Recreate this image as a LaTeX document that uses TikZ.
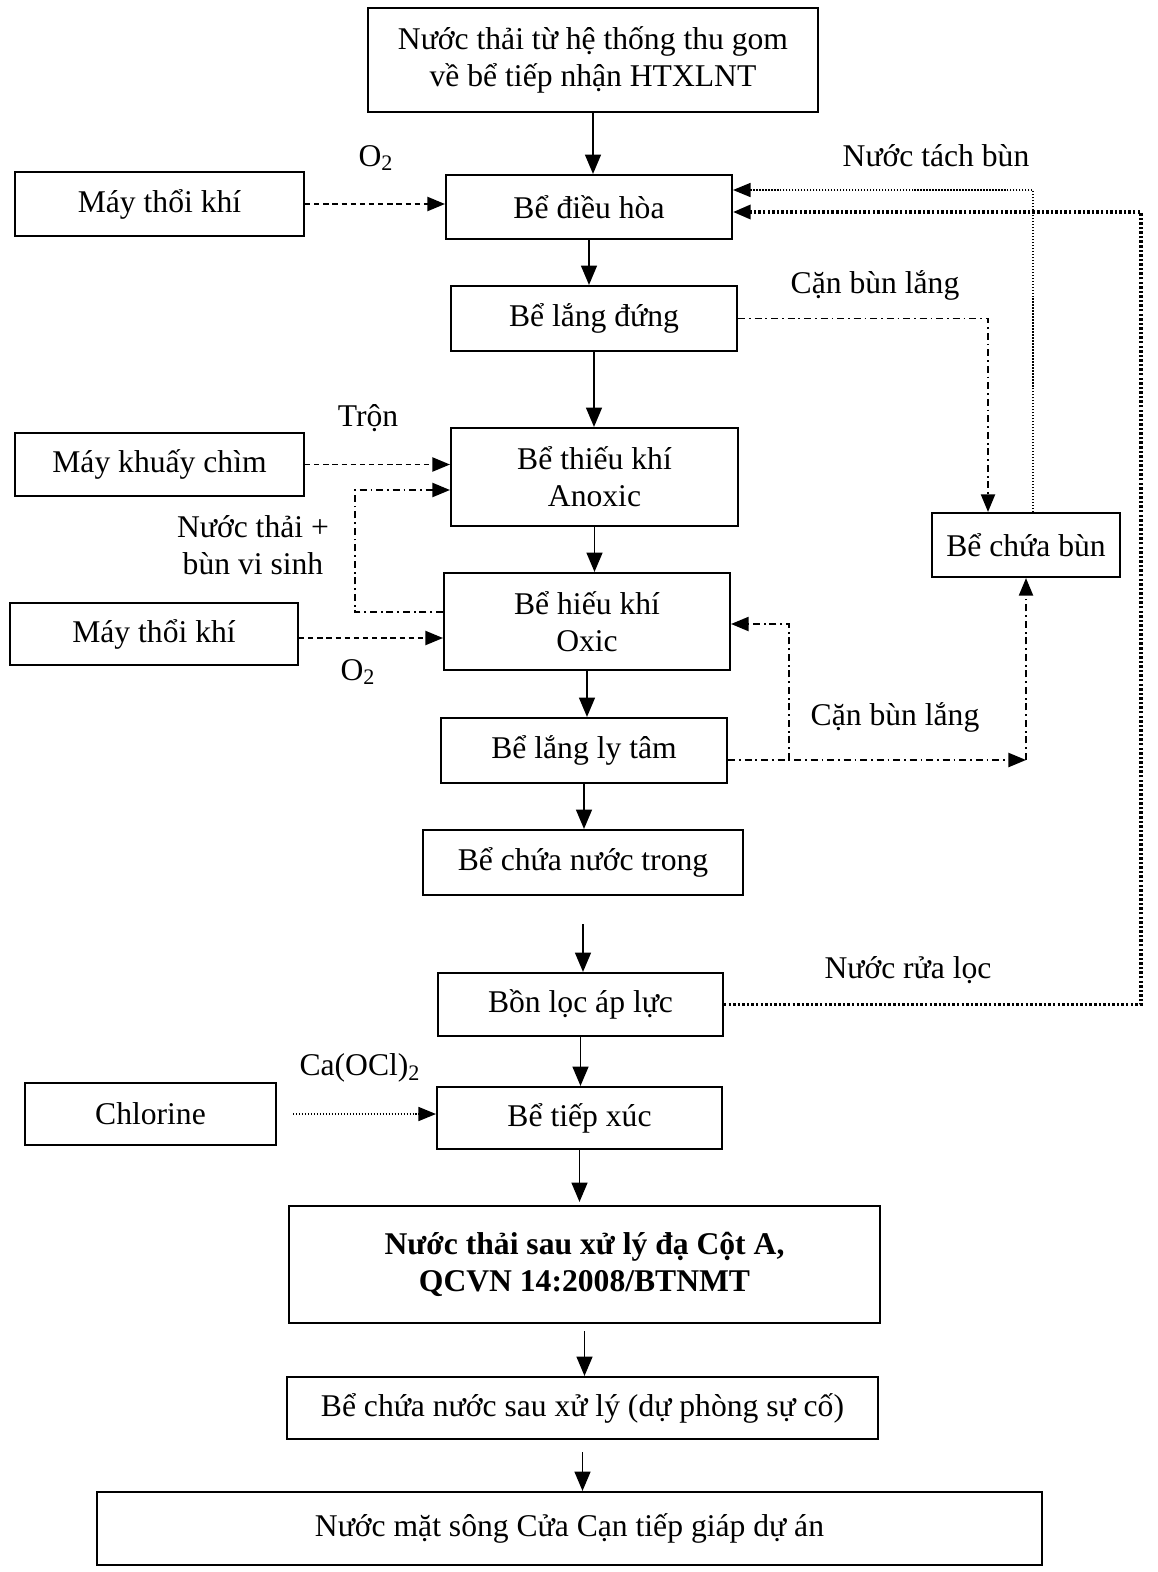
\documentclass[tikz,border=0pt]{standalone}
\usepackage{fontspec}
\setmainfont{Liberation Serif}
\usepackage{tikz}
\usetikzlibrary{arrows.meta,calc}

\begin{document}
\begin{tikzpicture}[x=0.02cm,y=-0.02cm,
		every node/.style={font=\fontsize{18}{21}\selectfont},
		unit/.style={draw, line width=1.2pt, align=center, inner sep=0pt},
		flow/.style={line width=1.1pt, -{Triangle[length=11pt,width=9pt]}},
		dashflow/.style={line width=1.1pt, dash pattern=on 3pt off 2.2pt, -{Triangle[length=10pt,width=8pt]}},
		dotflow/.style={line width=0.8pt, dash pattern=on 0.8pt off 0.9pt, -{Triangle[length=10pt,width=8pt]}},
		dotheavy/.style={line width=1.8pt, dash pattern=on 1.4pt off 1.2pt, -{Triangle[length=10pt,width=8pt]}},
		dashdot/.style={line width=1.1pt, dash pattern=on 4pt off 2.2pt on 1pt off 2.2pt},
		tag/.style={inner sep=1pt}]
	\useasboundingbox (0,0) rectangle (1158,1572);

	% main line
	\node[unit, minimum width=9cm, minimum height=2.08cm] (inlet) at (593,60) {Nước thải từ hệ thống thu gom\\về bể tiếp nhận HTXLNT};
	\node[unit, minimum width=5.72cm, minimum height=1.28cm] (dieuhoa) at (589,207) {Bể điều hòa};
	\node[unit, minimum width=5.72cm, minimum height=1.3cm] (langdung) at (594,318.5) {Bể lắng đứng};
	\node[unit, minimum width=5.74cm, minimum height=1.96cm] (anoxic) at (594.5,477) {Bể thiếu khí\\Anoxic};
	\node[unit, minimum width=5.72cm, minimum height=1.94cm] (oxic) at (587,621.5) {Bể hiếu khí\\Oxic};
	\node[unit, minimum width=5.72cm, minimum height=1.3cm] (lytam) at (584,750.5) {Bể lắng ly tâm};
	\node[unit, minimum width=6.4cm, minimum height=1.3cm] (nuoctrong) at (583,862.5) {Bể chứa nước trong};
	\node[unit, minimum width=5.7cm, minimum height=1.26cm] (bonloc) at (580.5,1004.5) {Bồn lọc áp lực};
	\node[unit, minimum width=5.7cm, minimum height=1.24cm] (tiepxuc) at (579.5,1118) {Bể tiếp xúc};
	\node[unit, minimum width=11.82cm, minimum height=2.34cm, font=\fontsize{18}{21}\selectfont\bfseries] (sauxuly) at (584.5,1264.5) {Nước thải sau xử lý đạ Cột A,\\QCVN 14:2008/BTNMT};
	\node[unit, minimum width=11.82cm, minimum height=1.24cm] (duphong) at (582.5,1408) {Bể chứa nước sau xử lý (dự phòng sự cố)};
	\node[unit, minimum width=18.9cm, minimum height=1.46cm] (song) at (569.5,1528.5) {Nước mặt sông Cửa Cạn tiếp giáp dự án};

	% side units
	\node[unit, minimum width=5.78cm, minimum height=1.28cm] (thoikhiA) at (159.5,204) {Máy thổi khí};
	\node[unit, minimum width=5.78cm, minimum height=1.26cm] (khuay) at (159.5,464.5) {Máy khuấy chìm};
	\node[unit, minimum width=5.76cm, minimum height=1.24cm] (thoikhiB) at (154,634) {Máy thổi khí};
	\node[unit, minimum width=5.02cm, minimum height=1.24cm] (chlorine) at (150.5,1114) {Chlorine};
	\node[unit, minimum width=3.76cm, minimum height=1.28cm] (chuabun) at (1026,545) {Bể chứa bùn};

	% main arrows
	\draw[flow] (inlet.south) -- (inlet.south |- dieuhoa.north);
	\draw[flow] (dieuhoa.south) -- (dieuhoa.south |- langdung.north);
	\draw[flow] (langdung.south) -- (langdung.south |- anoxic.north);
	\draw[flow] (anoxic.south) -- (anoxic.south |- oxic.north);
	\draw[flow] (oxic.south) -- (oxic.south |- lytam.north);
	\draw[flow] (lytam.south) -- (lytam.south |- nuoctrong.north);
	\draw[flow, shorten <=0.56cm] (nuoctrong.south) -- (nuoctrong.south |- bonloc.north);
	\draw[flow] (bonloc.south) -- (bonloc.south |- tiepxuc.north);
	\draw[flow, shorten >=0.06cm] (tiepxuc.south) -- (tiepxuc.south |- sauxuly.north);
	\draw[flow, shorten <=0.14cm] (sauxuly.south) -- (sauxuly.south |- duphong.north);
	\draw[flow, shorten <=0.24cm] (duphong.south) -- (duphong.south |- song.north);

	% air, mixing, chlorine
	\draw[dashflow] (thoikhiA.east) -- (thoikhiA.east -| dieuhoa.west);
	\node[tag] (oxyA) at (376,158) {O\textsubscript{2}};
	\draw[dashflow] (khuay.east) -- (khuay.east -| anoxic.west);
	\node[tag] (tron) at (368,418) {Trộn};
	\draw[dashflow] ([yshift=-0.08cm]thoikhiB.east) -- ([yshift=-0.08cm]thoikhiB.east -| oxic.west);
	\node[tag] (oxyB) at (358,672) {O\textsubscript{2}};
	\draw[dotflow, shorten <=0.32cm] (chlorine.east) -- (chlorine.east -| tiepxuc.west);
	\node[tag] (caocl) at (360,1068) {Ca(OCl)\textsubscript{2}};

	% internal recycle
	\draw[dashdot, -{Triangle[length=10pt,width=8pt]}] ([yshift=0.19cm]oxic.west) -- ++(-88,0) |- ([yshift=-0.26cm]anoxic.west);
	\node[tag, align=center] (tuanhoan) at (253,545) {Nước thải +\\bùn vi sinh};

	% sludge lines
	\draw[dashdot, -{Triangle[length=10pt,width=8pt]}] (langdung.east) -| ([xshift=-0.76cm]chuabun.north);
	\node[tag] (canA) at (875,285) {Cặn bùn lắng};
	\draw[dotflow] ([xshift=0.14cm]chuabun.north) |- ([yshift=0.34cm]dieuhoa.east);
	\node[tag] (tachbun) at (936,156) {Nước tách bùn};
	\coordinate (sumpA) at ([yshift=-0.19cm]lytam.east -| chuabun.south);
	\coordinate (sumpB) at ($([yshift=-0.19cm]lytam.east)+(61,0)$);
	\draw[dashdot, -{Triangle[length=10pt,width=8pt]}] ([yshift=-0.19cm]lytam.east) -- (sumpA);
	\draw[dashdot, -{Triangle[length=10pt,width=8pt]}] (sumpA) -- (chuabun.south);
	\draw[dashdot, -{Triangle[length=10pt,width=8pt]}] (sumpB) |- ([yshift=-0.05cm]oxic.east);
	\node[tag] (canB) at (895,717) {Cặn bùn lắng};

	% backwash
	\draw[dotheavy] (bonloc.east) -- ++(417,0) |- ([yshift=-0.1cm]dieuhoa.east);
	\node[tag] (rualoc) at (908,970) {Nước rửa lọc};
\end{tikzpicture}
\end{document}
